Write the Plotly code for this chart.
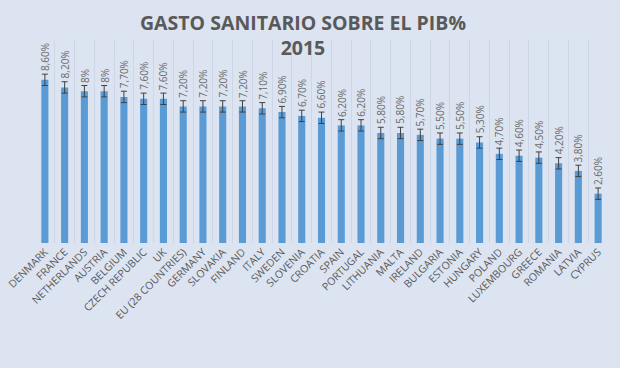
import plotly.graph_objects as go

countries = ["DENMARK", "FRANCE", "NETHERLANDS", "AUSTRIA", "BELGIUM", "CZECH REPUBLIC", "UK",
             "EU (28 COUNTRIES)", "GERMANY", "SLOVAKIA", "FINLAND", "ITALY", "SWEDEN", "SLOVENIA",
             "CROATIA", "SPAIN", "PORTUGAL", "LITHUANIA", "MALTA", "IRELAND", "BULGARIA", "ESTONIA",
             "HUNGARY", "POLAND", "LUXEMBOURG", "GREECE", "ROMANIA", "LATVIA", "CYPRUS"]
values = [8.6, 8.2, 8.0, 8.0, 7.7, 7.6, 7.6, 7.2, 7.2, 7.2, 7.2, 7.1, 6.9, 6.7, 6.6, 6.2, 6.2,
          5.8, 5.8, 5.7, 5.5, 5.5, 5.3, 4.7, 4.6, 4.5, 4.2, 3.8, 2.6]
labels = ["8,60%", "8,20%", "8%", "8%", "7,70%", "7,60%", "7,60%", "7,20%", "7,20%", "7,20%",
          "7,20%", "7,10%", "6,90%", "6,70%", "6,60%", "6,20%", "6,20%", "5,80%", "5,80%", "5,70%",
          "5,50%", "5,50%", "5,30%", "4,70%", "4,60%", "4,50%", "4,20%", "3,80%", "2,60%"]
err = 0.3

fig = go.Figure()
fig.add_trace(go.Bar(
    x=countries, y=values,
    marker=dict(color="#5b9bd5", line=dict(width=0)),
    error_y=dict(type="constant", value=err, color="#404040", thickness=1, width=3),
))

for c, v, t in zip(countries, values, labels):
    fig.add_annotation(x=c, y=v + err, text=t, textangle=-90, showarrow=False,
                       xanchor="center", yanchor="bottom", yshift=1,
                       font=dict(family="Open Sans", size=10, color="#6b6b6b"))

# title (plot area spans pixel y 40..243)
fig.add_annotation(xref="paper", yref="paper", x=0.468, y=(243 - 34.5) / 203,
                   text="<b>GASTO SANITARIO SOBRE EL PIB%<br>2015</b>", showarrow=False,
                   xanchor="center", yanchor="middle", align="center",
                   font=dict(family="Open Sans", size=19.5, color="#595959"))

fig.update_layout(
    width=620, height=368,
    paper_bgcolor="#dce4f1", plot_bgcolor="#dce4f1",
    margin=dict(l=35, r=12, t=40, b=125, autoexpand=False),
    bargap=0.64,
    showlegend=False,
    xaxis=dict(tickangle=-45, tickson="boundaries", showgrid=True, gridcolor="#ccd6e6",
               gridwidth=1, ticks="", showline=False, zeroline=False, automargin=False,
               tickfont=dict(family="Open Sans", size=10.5, color="#595959")),
    yaxis=dict(range=[0, 10.7], showgrid=False, showticklabels=False, zeroline=False,
               showline=False, ticks="", automargin=False),
)

fig.write_html("out.html", config={"displayModeBar": False},
               post_script="document.body.style.margin='0';document.body.style.padding='0';"
                           "document.body.style.background='#dce4f1';")
